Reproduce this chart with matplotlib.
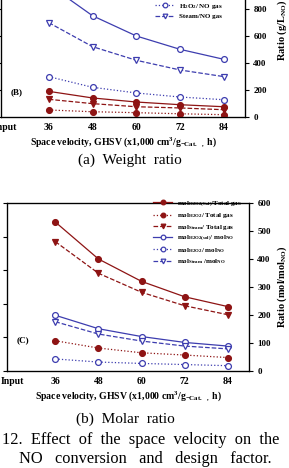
import matplotlib
matplotlib.use("Agg")
import matplotlib.pyplot as plt

plt.rcParams['font.family'] = ['Liberation Serif', 'DejaVu Serif']
plt.rcParams['mathtext.fontset'] = 'custom'
plt.rcParams['mathtext.rm'] = 'Liberation Serif:bold'
plt.rcParams['mathtext.it'] = 'Liberation Serif:bold'
plt.rcParams['mathtext.bf'] = 'Liberation Serif:bold'

# categories on the x axis
cats = ["Input", "36", "48", "60", "72", "84"]
xs = [1, 2, 3, 4, 5]

# (a) weight ratio, g/L_NO
w_sol_no = [980, 750, 600, 501, 427]
w_h2o2_no = [299, 220, 178, 148, 128]
w_steam_no = [699, 521, 420, 348, 299]
w_sol_tot = [190, 141, 111, 91, 76]
w_h2o2_tot = [52, 39, 32, 24, 17]
w_steam_tot = [131, 99, 76, 67, 54]

# (b) molar ratio, mol/mol_NO
m_sol_tot = [532, 400, 320, 265, 230]
m_h2o2_tot = [108, 82, 65, 57, 48]
m_steam_tot = [462, 349, 281, 233, 201]
m_sol_no = [199, 151, 123, 102, 89]
m_h2o2_no = [43, 32, 27, 23, 19]
m_steam_no = [176, 132, 107, 89, 79]

red = '#8e1414'
blue = '#3d3daf'
bold = dict(fontweight='bold')

fig = plt.figure(figsize=(2.89, 4.68), dpi=100)


def panel(rect, xlim, ylim, yticks, series, labels, leg_anchor, tag, tag_xy, ylabel, ylab_xy):
    ax = fig.add_axes(rect)
    ax.set_xlim(*xlim)
    ax.set_ylim(0, 100)
    ax.set_yticks([0, 20, 40, 60, 80, 100])
    ax.set_yticklabels([])
    ax.tick_params(axis='y', direction='out', length=3, width=0.8)
    ax.set_xticks(range(len(cats)))
    ax.set_xticklabels(cats, fontsize=7, fontweight='bold')
    ax.tick_params(axis='x', length=0, pad=4)
    for s in ax.spines.values():
        s.set_linewidth(0.9)
    ax2 = ax.twinx()
    ax2.set_ylim(*ylim)
    ax2.set_yticks(yticks)
    ax2.set_yticklabels([str(t) for t in yticks], fontsize=6.5, fontweight='bold')
    ax2.tick_params(axis='y', direction='out', length=3, width=0.8, pad=3)
    hs = []
    for (vals, col, ls, mk, face), lab in zip(series, labels):
        h, = ax2.plot(xs, vals, color=col, ls=ls, lw=0.9, marker=mk, ms=4.2,
                      mfc=face, mec=col, mew=0.9, label=lab)
        hs.append(h)
    ax2.legend(handles=hs, loc='lower left', bbox_to_anchor=leg_anchor, frameon=False,
               prop={'family': 'Liberation Serif', 'weight': 'bold', 'size': 5},
               handlelength=2.8, labelspacing=0.35, handletextpad=0.7, borderaxespad=0,
               borderpad=0, markerscale=0.8)
    ax.text(tag_xy[0], tag_xy[1], tag, transform=ax.transAxes, fontsize=6.5, **bold)
    ax2.set_ylabel(ylabel, fontsize=7.5, fontweight='bold')
    ax2.yaxis.set_label_coords(*ylab_xy)
    ax.set_xlabel("Space velocity, GHSV (x1,000 cm$^3$/g$_{\\mathregular{-Cat.\\ \\ ,}}$ h)",
                  fontsize=7, fontweight='bold', labelpad=3)
    return ax


panel([1 / 289, 0.75, 244 / 289, 135 / 468], (-0.09, 5.48), (0, 1000), [0, 200, 400, 600, 800],
      [(w_sol_tot, red, '-', 'o', red), (w_h2o2_tot, red, ':', 'o', red),
       (w_steam_tot, red, '--', 'v', red), (w_sol_no, blue, '-', 'o', 'white'),
       (w_h2o2_no, blue, ':', 'o', 'white'), (w_steam_no, blue, '--', 'v', 'white')],
      ["H$_2$O$_{2(sol)}$/Total gas", "H$_2$O$_2$/ Total gas", "Steam/Total gas",
       "H$_2$O$_{2(sol)}$/ NO gas", "H$_2$O$_2$/ NO gas", "Steam/NO gas"],
      (0.631, 0.726), "(B)", (0.04, 0.17), "Ratio (g/L$_{NO}$)", (1.125, 0.64))

panel([7 / 289, 97 / 468, 242 / 289, 168 / 468], (-0.12, 5.49), (0, 600), [0, 100, 200, 300, 400, 500, 600],
      [(m_sol_tot, red, '-', 'o', red), (m_h2o2_tot, red, ':', 'o', red),
       (m_steam_tot, red, '--', 'v', red), (m_sol_no, blue, '-', 'o', 'white'),
       (m_h2o2_no, blue, ':', 'o', 'white'), (m_steam_no, blue, '--', 'v', 'white')],
      ["mol$_{H2O2(Sol)}$/Total gas", "mol$_{H2O2}$/ Total gas", "mol$_{Steam}$/ Total gas",
       "mol$_{H2O2(sol)}$/ mol$_{NO}$", "mol$_{H2O2}$/ mol$_{NO}$", "mol$_{Steam}$ /mol$_{NO}$"],
      (0.603, 0.625), "(C)", (0.04, 0.17), "Ratio (mol/mol$_{NO}$)", (1.11, 0.5))

fig.text(0.45, 0.657, "(a)  Weight  ratio", ha='center', va='center', fontsize=11)
fig.text(0.433, 0.105, "(b)  Molar  ratio", ha='center', va='center', fontsize=11)
fig.text(0.008, 0.059, "12.  Effect  of  the  space  velocity  on  the", ha='left', va='center', fontsize=11.8)
fig.text(0.066, 0.019, "NO   conversion   and   design   factor.", ha='left', va='center', fontsize=11.8)

fig.savefig("out.png", dpi=100)
